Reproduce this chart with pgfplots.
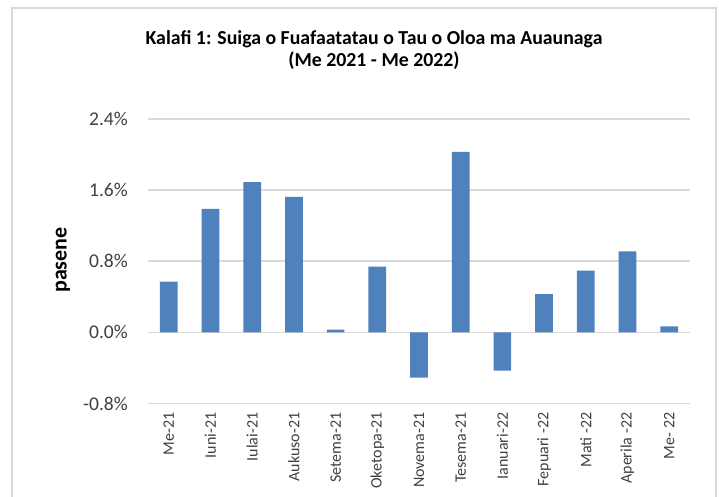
\documentclass[border=0pt]{standalone}
\usepackage{fontspec}
\setmainfont{Carlito}
\usepackage{pgfplots}
\pgfplotsset{compat=1.18}
\definecolor{barblue}{HTML}{4F81BD}
\definecolor{gridgray}{HTML}{D9D9D9}
\definecolor{txtgray}{HTML}{404040}
\begin{document}
\begin{tikzpicture}[x=1pt,y=1pt]
\useasboundingbox (0,0) rectangle (719,497);
\draw[gridgray,line width=1.5pt] (12,0) -- (12,489) -- (716,489) -- (716,0);
\node[anchor=base,font=\fontsize{19.8}{22}\selectfont\bfseries] at (374,452)
  {Kalafi 1: Suiga o Fuafaatatau o Tau o Oloa ma Auaunaga};
\node[anchor=base,font=\fontsize{19.8}{22}\selectfont\bfseries] at (374,430)
  {(Me 2021 - Me 2022)};
\node[rotate=90,font=\fontsize{22}{24}\selectfont\bfseries] at (63,237) {pasene};
\begin{axis}[
    at={(148pt,93.5pt)}, anchor=south west,
    scale only axis,
    width=542pt, height=284.5pt,
    xmin=-0.5, xmax=12.5,
    ymin=-0.8, ymax=2.4,
    axis line style={draw=none},
    major tick length=0pt,
    ytick={-0.8,0,0.8,1.6,2.4},
    yticklabels={-0.8\%,0.0\%,0.8\%,1.6\%,2.4\%},
    ymajorgrids,
    grid style={gridgray,line width=1.5pt},
    xtick={0,...,12},
    xticklabels={Me-21,Iuni-21,Iulai-21,Aukuso-21,Setema-21,Oketopa-21,Novema-21,Tesema-21,Ianuari-22,Fepuari -22,Mati -22,Aperila -22,Me- 22},
    xticklabel style={rotate=90,anchor=east,inner sep=0pt,font=\fontsize{16}{18}\selectfont,text=txtgray},
    xticklabel shift=9pt,
    yticklabel style={anchor=east,inner sep=0pt,font=\fontsize{19.5}{22}\selectfont,text=txtgray},
    yticklabel shift=20pt,
    clip=false,
]
\draw[gridgray,line width=1.5pt] (axis cs:-0.5,0) -- (axis cs:12.5,0);
\addplot[ybar,bar width=17.7pt,fill=barblue,draw=none] coordinates {
    (0,0.57) (1,1.39) (2,1.69) (3,1.525) (4,0.03) (5,0.74) (6,-0.51)
    (7,2.03) (8,-0.43) (9,0.43) (10,0.695) (11,0.91) (12,0.068)
};
\end{axis}
\end{tikzpicture}
\end{document}
